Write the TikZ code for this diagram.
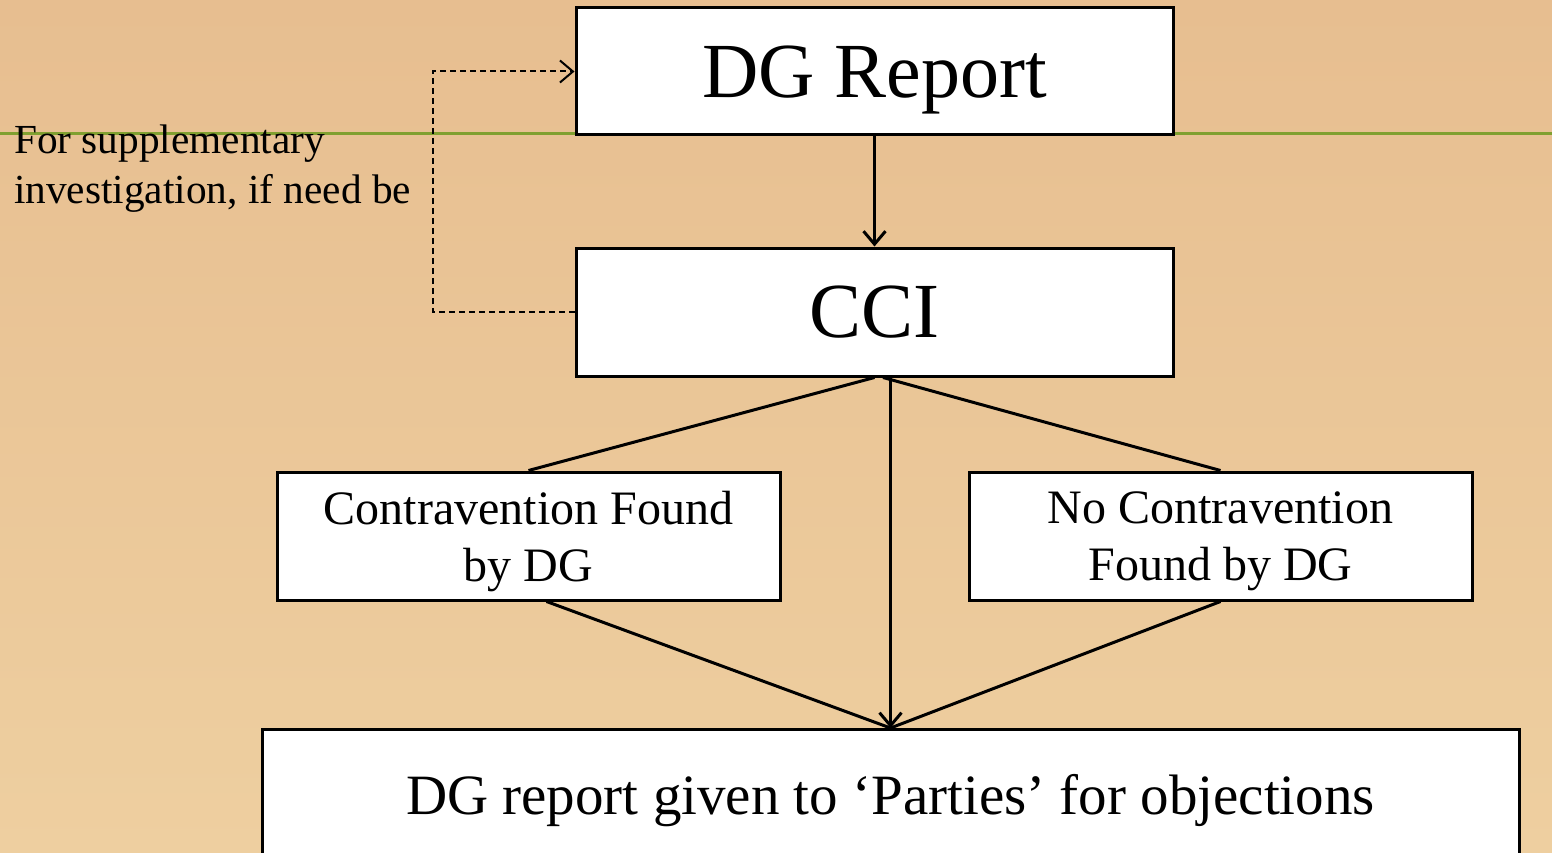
\documentclass[tikz,border=0pt]{standalone}
\usepackage{fontspec}
\setmainfont{Liberation Serif}
\usetikzlibrary{arrows.meta}

\definecolor{paperTop}{RGB}{231,190,144}
\definecolor{paperBot}{RGB}{238,207,160}
\definecolor{ruleGreen}{RGB}{128,160,48}

\tikzset{
  stepbox/.style={draw, fill=white, line width=3pt, inner sep=0pt, align=center, text depth=0pt},
  bigtext/.style={font=\fontsize{78}{80}\selectfont},
  midtext/.style={font=\fontsize{48}{57}\selectfont},
  link/.style={line width=3pt},
  dashlink/.style={line width=2pt, dash pattern=on 6pt off 4pt},
  >={Straight Barb[length=13pt,width=22pt]}
}

\begin{document}
\begin{tikzpicture}[x=1pt,y=-1pt]
  \useasboundingbox (0,0) rectangle (1552,853);
  \clip (0,0) rectangle (1552,853);
  \shade[top color=paperTop, bottom color=paperBot] (0,0) rectangle (1552,853); %paper
  \draw[ruleGreen, line width=3pt] (0,134) -- (1552,134); %rule

  \node[stepbox, bigtext, minimum width=597pt, minimum height=127pt] (dgrep) at (874.5,71.5) {DG Report}; %DG report
  \node[stepbox, bigtext, minimum width=597pt, minimum height=128pt] (cci) at (874.5,312) {CCI}; %CCI
  \node[stepbox, midtext, minimum width=503pt, minimum height=128pt] (found) at (528.5,536) {Contravention Found\\by DG}; %found
  \node[stepbox, midtext, minimum width=503pt, minimum height=128pt] (nofound) at (1220.5,536) {No Contravention\\Found by DG}; %not found
  \node[stepbox, font=\fontsize{57}{60}\selectfont, anchor=north, minimum width=1257pt, text height=40pt, inner ysep=45pt] (parties) at (890.5,728) {DG report given to `Parties' for objections}; %parties

  \node[anchor=north west, align=left, inner sep=0pt, font=\fontsize{41.3}{50}\selectfont] (note) at (14,125) {For supplementary\\investigation, if need be}; %note

  \draw[link,->] (dgrep) -- (cci);
  \draw[dashlink,->] (cci.west) -- ++(-142,0) |- (dgrep.west);
  \draw[link] (cci.south) -- (found.north);
  \draw[link] ([xshift=8.5pt]cci.south) -- (nofound.north);
  \draw[link,->] ([xshift=16pt]cci.south) -- (parties.north);
  \draw[link] ([xshift=18pt]found.south) -- (parties.north);
  \draw[link] (nofound.south) -- (parties.north);
\end{tikzpicture}
\end{document}
